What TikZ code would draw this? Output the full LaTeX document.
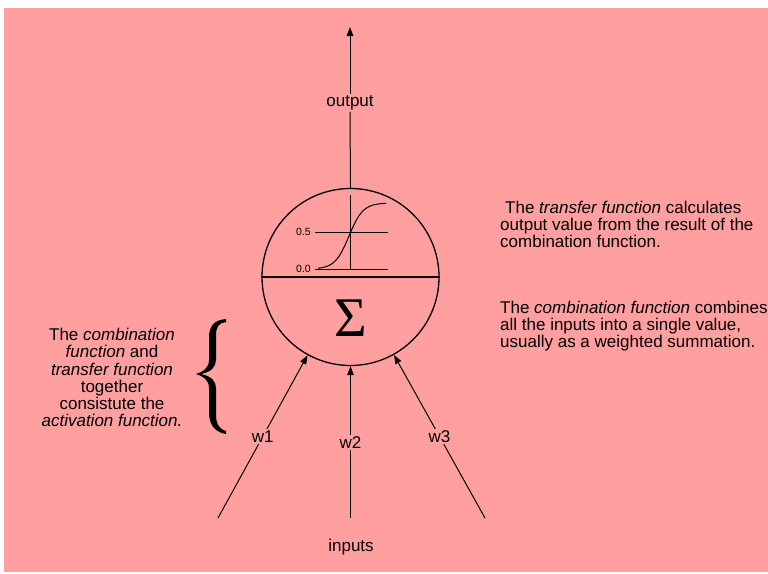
\documentclass[tikz,border=0pt]{standalone}
\usepackage{fontspec}
\setmainfont{Liberation Sans}
\newfontfamily\sigmafont{Liberation Serif}
\usetikzlibrary{arrows.meta}
\definecolor{bgpink}{RGB}{255,159,159}
\tikzset{
  arr/.style={line width=1pt, -{Triangle[length=9pt,width=6.5pt]}},
  lbl/.style={font=\fontsize{17}{19}\selectfont, inner sep=1.5pt},
  wlbl/.style={lbl, fill=bgpink},
  txt/.style={font=\fontsize{17}{17.2}\selectfont, inner sep=0pt},
  ticklbl/.style={font=\fontsize{10.5}{12}\selectfont, inner sep=0pt, anchor=east},
  thinline/.style={line width=1pt}
}
\begin{document}
\begin{tikzpicture}[x=1pt,y=-1pt]
\useasboundingbox (0,0) rectangle (768,573);
\fill[white] (0,0) rectangle (768,573);
\fill[bgpink] (4,8) rectangle (768,572);

% neuron
\node[draw, circle, minimum size=177pt, inner sep=0pt, line width=1.3pt] (neuron) at (350.5,277) {};
\draw[line width=1.3pt] (neuron.west) -- (neuron.east);

% sigmoid plot
\draw[thinline] (350,195) -- (350,269);
\draw[thinline] (315,232) -- (388,232);
\draw[thinline] (315,269) -- (388,269);
\node[ticklbl] (t05) at (311,232) {0.5};
\node[ticklbl] (t00) at (311,269) {0.0};
\draw[thinline] plot[domain=318:386, samples=70, smooth] (\x, {269-66/(1+exp(-(\x-349)/7))});

% sigma
\node[inner sep=0pt, anchor=base, font=\sigmafont\fontsize{56}{56}\selectfont] (sigma) at (351,336.5) {Σ};

% output
\coordinate (top) at (350,27);
\node[lbl] (out) at (350,103) {output};
\draw[thinline] (neuron.north) -- (out.south);
\draw[arr] (out.north) -- (top);

% inputs
\coordinate (in1) at (218,518);
\coordinate (in2) at (350.5,518);
\coordinate (in3) at (485,518);
\draw[arr] (in1) -- node[wlbl, pos=0.5] (w1) {w1} (neuron);
\draw[arr] (in2) -- node[wlbl, pos=0.5] (w2) {w2} (neuron);
\draw[arr] (in3) -- node[wlbl, pos=0.5] (w3) {w3} (neuron);
\node[lbl] (inputs) at (351,547) {inputs};

% right texts (base anchor = baseline of last line)
\node[txt, anchor=base west, align=left] (transfer) at (500,247.7)
  {\hspace{5pt}The \textit{transfer function} calculates\\output value from the result of the\\combination function.};
\node[txt, anchor=base west, align=left] (combination) at (500,347.7)
  {The \textit{combination function} combines\\all the inputs into a single value,\\usually as a weighted summation.};

% left text
\node[txt, anchor=base, align=center] (activation) at (112,426.7)
  {The \textit{combination}\\\textit{function} and\\\textit{transfer function}\\together\\consistute the\\\textit{activation function.}};

% brace
\fill[black] (226,319) .. controls (214,320) and (209,326) .. (209,338) -- (209,360)
  .. controls (209,368) and (203,372) .. (196,374)
  .. controls (203,376) and (209,380) .. (209,388) -- (209,412)
  .. controls (209,424) and (214,432) .. (226,434)
  -- (226,431) .. controls (219,429) and (216,424) .. (216,414) -- (216,388)
  .. controls (216,381) and (211,376) .. (201,374)
  .. controls (211,372) and (216,367) .. (216,360) -- (216,336)
  .. controls (216,326) and (219,323) .. (226,322) -- cycle;
\end{tikzpicture}
\end{document}
